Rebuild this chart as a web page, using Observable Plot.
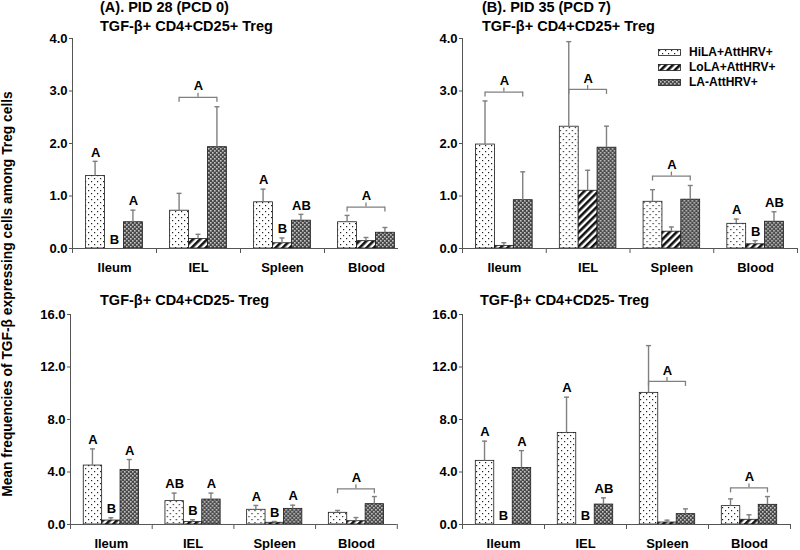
<!DOCTYPE html>
<html>
<head>
<meta charset="utf-8">
<script src="https://cdn.jsdelivr.net/npm/d3@7"></script>
<script src="https://cdn.jsdelivr.net/npm/@observablehq/plot@0.6"></script>
<style>
  body { margin: 0; background: #fff; }
  #fig { position: relative; width: 800px; height: 550px; overflow: hidden; background: #fff;
         font-family: "Liberation Sans", Arial, sans-serif; font-weight: bold; color: #000; }
  .panel { position: absolute; overflow: hidden; }
  .panel svg { max-width: none !important; }
  .t { position: absolute; white-space: nowrap; font-size: 14.5px; line-height: 1; }
  .leg { position: absolute; white-space: nowrap; font-size: 12px; line-height: 1; display: flex; align-items: center; }
  .leg svg { margin-right: 8px; }
  #ylab { position: absolute; width: 440px; height: 14px; line-height: 14px; font-size: 13.8px; text-align: center;
          white-space: nowrap; left: -212px; top: 286.5px; transform: rotate(-90deg); }
</style>
</head>
<body>
<svg width="0" height="0" style="position:absolute">
  <defs>
    <pattern id="pat0" patternUnits="userSpaceOnUse" width="6" height="6">
      <rect width="6" height="6" fill="#fff"/>
      <rect x="1" y="1" width="1.2" height="1.2" fill="#222"/>
      <rect x="4" y="4" width="1.2" height="1.2" fill="#222"/>
    </pattern>
    <pattern id="pat1" patternUnits="userSpaceOnUse" width="5" height="5" patternTransform="rotate(45)">
      <rect width="5" height="5" fill="#fff"/>
      <rect x="0" y="0" width="2.6" height="5" fill="#111"/>
    </pattern>
    <pattern id="pat2" patternUnits="userSpaceOnUse" width="4" height="4">
      <rect width="4" height="4" fill="#4a4a4a"/>
      <rect x="0" y="0" width="1.6" height="1.6" fill="#c4c4c4"/>
      <rect x="2" y="2" width="1.6" height="1.6" fill="#c4c4c4"/>
    </pattern>
  </defs>
</svg>
<div id="fig"></div>
<script>
// ---------------- data ----------------
const categories = ["Ileum", "IEL", "Spleen", "Blood"];
const groups = ["HiLA+AttHRV+", "LoLA+AttHRV+", "LA-AttHRV+"];

// Panel A (PID 28, PCD 0) – TGF-β+ CD4+CD25+ Treg
const aPosMeans = [[1.38, 0.00, 0.50], [0.72, 0.18, 1.93], [0.88, 0.10, 0.53], [0.50, 0.14, 0.30]];
const aPosErrs  = [[0.28, 0.00, 0.23], [0.33, 0.09, 0.77], [0.25, 0.10, 0.12], [0.13, 0.07, 0.10]];
const aPosLetters = [["A", "B", "A"], ["", "", ""], ["A", "B", "AB"], ["", "", ""]];
const aPosBrackets = [null, 2.88, null, 0.79];

// Panel B (PID 35, PCD 7) – TGF-β+ CD4+CD25+ Treg
const bPosMeans = [[1.98, 0.05, 0.92], [2.32, 1.10, 1.92], [0.89, 0.32, 0.93], [0.47, 0.08, 0.51]];
const bPosErrs  = [[0.83, 0.06, 0.54], [1.62, 0.39, 0.41], [0.23, 0.09, 0.27], [0.09, 0.07, 0.19]];
const bPosLetters = [["", "", ""], ["", "", ""], ["", "", ""], ["A", "B", "AB"]];
const bPosBrackets = [2.98, 3.03, 1.38, null];

// Panel A – TGF-β+ CD4+CD25- Treg
const aNegMeans = [[4.49, 0.30, 4.16], [1.78, 0.18, 1.90], [1.12, 0.13, 1.19], [0.89, 0.25, 1.55]];
const aNegErrs  = [[1.27, 0.21, 0.79], [0.61, 0.18, 0.49], [0.33, 0.10, 0.28], [0.18, 0.28, 0.58]];
const aNegLetters = [["A", "B", "A"], ["AB", "B", "A"], ["A", "B", "A"], ["", "", ""]];
const aNegBrackets = [null, null, null, 2.72];

// Panel B – TGF-β+ CD4+CD25- Treg
const bNegMeans = [[4.85, 0.00, 4.31], [6.98, 0.00, 1.52], [10.03, 0.15, 0.79], [1.40, 0.36, 1.50]];
const bNegErrs  = [[1.50, 0.00, 1.32], [2.72, 0.00, 0.51], [3.60, 0.18, 0.40], [0.55, 0.38, 0.63]];
const bNegLetters = [["A", "B", "A"], ["A", "B", "AB"], ["", "", ""], ["", "", ""]];
const bNegBrackets = [null, null, 10.9, 2.79];

const posTicks = [0, 1, 2, 3, 4];
const negTicks = [0, 4, 8, 12, 16];
const bracketLetter = "A";

const titleA = "(A). PID 28 (PCD 0)";
const titleB = "(B). PID 35 (PCD 7)";
const subPos = "TGF-β+ CD4+CD25+ Treg";
const subNeg = "TGF-β+ CD4+CD25- Treg";
const yLabel = "Mean frequencies of TGF-β expressing cells among Treg cells";

// ---------------- styles ----------------
const FONT = '"Liberation Sans", Arial, sans-serif';
const axisColor = "#555";
const errColor = "#808080";
const PAD_OUTER = 0.72;
const ERR_W = 1.4;

function makePanel(cfg) {
  const rows = [];
  categories.forEach((c, ci) => groups.forEach((g, gi) => {
    const m = cfg.means[ci][gi], e = cfg.errs[ci][gi];
    rows.push({cat: c, grp: g, gi, mean: m, err: e, top: m + e, letter: cfg.letters[ci][gi]});
  }));
  const br = [];
  cfg.brackets.forEach((h, ci) => { if (h != null) br.push({cat: categories[ci], h, letter: bracketLetter}); });
  const bw = cfg.catW / (3 + 2 * PAD_OUTER);          // band width of one bar (no rounding)
  const lineInset = (bw - ERR_W) / 2;                 // thin centred bar = vertical line
  const brInset = (bw - 1.3) / 2;
  const capInset = (bw - 5) / 2;
  const withErr = rows.filter(d => d.err > 0);
  const width = cfg.marginLeft + 4 * cfg.catW + cfg.marginRight;
  const plotH = 210;
  const firstCat = categories[0], lastCat = categories[categories.length - 1];

  return Plot.plot({
    width, height: 275,
    marginLeft: cfg.marginLeft, marginRight: cfg.marginRight,
    marginTop: cfg.marginTop, marginBottom: 275 - cfg.marginTop - plotH,
    fx: {domain: categories, padding: 0, round: false},
    x: {domain: groups, paddingInner: 0, paddingOuter: PAD_OUTER, round: false, axis: null},
    y: {domain: [0, cfg.yMax]},
    style: {fontFamily: FONT, fontSize: "13px", fontWeight: "bold", color: "#000", background: "transparent", overflow: "visible", maxWidth: "none"},
    marks: [
      Plot.axisY({ticks: cfg.yTicks, tickFormat: d3.format(".1f"), tickSize: 3, tickPadding: 2, label: null, stroke: axisColor, fill: "#000"}),
      // category labels
      Plot.axisFx({anchor: "bottom", tickSize: 0, tickPadding: 14, label: null, fontSize: 13}),
      // tick marks between categories
      Plot.axisFx({anchor: "bottom", tickSize: 5, tickFormat: () => "", label: null, dx: -cfg.catW / 2, stroke: axisColor}),
      Plot.axisFx({anchor: "bottom", tickSize: 5, tickFormat: () => "", label: null, dx: cfg.catW / 2, stroke: axisColor,
                   filter: d => d === lastCat}),
      // value-axis line along the left edge of the first category
      Plot.axisFx({anchor: "bottom", tickSize: -plotH, tickFormat: () => "", label: null, dx: -cfg.catW / 2, stroke: axisColor,
                   filter: d => d === firstCat}),
      ...groups.map((g, gi) => Plot.barY(rows.filter(d => d.gi === gi), {
        fx: "cat", x: "grp", y: "mean", fill: `url(#pat${gi})`, stroke: "#1a1a1a", strokeWidth: 0.8
      })),
      Plot.ruleY([0], {stroke: axisColor, strokeWidth: 1}),
      // error bars (upper whisker) and caps
      Plot.barY(withErr, {fx: "cat", x: "grp", y1: "mean", y2: "top", fill: errColor, insetLeft: lineInset, insetRight: lineInset}),
      Plot.tickY(withErr, {fx: "cat", x: "grp", y: "top", stroke: errColor, strokeWidth: ERR_W, insetLeft: capInset, insetRight: capInset}),
      Plot.text(rows.filter(d => d.letter), {fx: "cat", x: "grp", y: "top", text: "letter", dy: -9, fontSize: 13, fontWeight: "bold", fill: "#000"}),
      // brackets
      Plot.ruleY(br, {fx: "cat", y: "h", x1: () => groups[0], x2: () => groups[2], insetLeft: bw / 2, insetRight: bw / 2, stroke: errColor, strokeWidth: 1.3}),
      Plot.barY(br.flatMap(b => [{...b, grp: groups[0]}, {...b, grp: groups[2]}]), {fx: "cat", x: "grp", y1: "h", y2: "h", insetBottom: -5, insetLeft: brInset, insetRight: brInset, fill: errColor}),
      Plot.barY(br, {fx: "cat", x: () => groups[1], y1: "h", y2: "h", insetTop: -4, insetLeft: brInset, insetRight: brInset, fill: errColor}),
      Plot.text(br, {fx: "cat", x: () => groups[1], y: "h", dy: -11, text: "letter", fontSize: 13, fontWeight: "bold", fill: "#000"})
    ]
  });
}

const fig = document.getElementById("fig");
function place(node, left, top, w, h) {
  const div = document.createElement("div");
  div.className = "panel";
  div.style.left = left + "px"; div.style.top = top + "px";
  div.style.width = w + "px"; div.style.height = h + "px";
  div.appendChild(node);
  fig.appendChild(div);
}
function addText(cls, text, left, top) {
  const d = document.createElement("div");
  d.className = cls; d.textContent = text;
  d.style.left = left + "px"; d.style.top = top + "px";
  fig.appendChild(d);
  return d;
}

place(makePanel({means: aPosMeans, errs: aPosErrs, letters: aPosLetters, brackets: aPosBrackets,
  yMax: 4, yTicks: posTicks, marginLeft: 72, marginRight: 2, catW: 84, marginTop: 38}), 0, 0, 398, 275);
place(makePanel({means: bPosMeans, errs: bPosErrs, letters: bPosLetters, brackets: bPosBrackets,
  yMax: 4, yTicks: posTicks, marginLeft: 62, marginRight: 3, catW: 83.75, marginTop: 38}), 400, 0, 400, 275);
place(makePanel({means: aNegMeans, errs: aNegErrs, letters: aNegLetters, brackets: aNegBrackets,
  yMax: 16, yTicks: negTicks, marginLeft: 70, marginRight: 3, catW: 81.7, marginTop: 39}), 0, 275, 400, 275);
place(makePanel({means: bNegMeans, errs: bNegErrs, letters: bNegLetters, brackets: bNegBrackets,
  yMax: 16, yTicks: negTicks, marginLeft: 62, marginRight: 10, catW: 82, marginTop: 39}), 400, 275, 400, 275);

addText("t", titleA, 100, 0);
addText("t", subPos, 100, 18.5);
addText("t", titleB, 482, 0);
addText("t", subPos, 482, 18.5);
addText("t", subNeg, 100, 293);
addText("t", subNeg, 480, 293);

// legend
const legRows = [52, 67, 82];
groups.forEach((g, gi) => {
  const d = document.createElement("div");
  d.className = "leg";
  d.style.left = "658px"; d.style.top = (legRows[gi] - 6) + "px"; d.style.height = "12px";
  d.innerHTML = `<svg width="23" height="7"><rect x="0.5" y="0.5" width="22" height="6" fill="url(#pat${gi})" stroke="#1a1a1a" stroke-width="0.8"/></svg>`;
  const s = document.createElement("span"); s.textContent = g; d.appendChild(s);
  fig.appendChild(d);
});

const yl = document.createElement("div");
yl.id = "ylab"; yl.textContent = yLabel;
fig.appendChild(yl);
</script>
</body>
</html>
